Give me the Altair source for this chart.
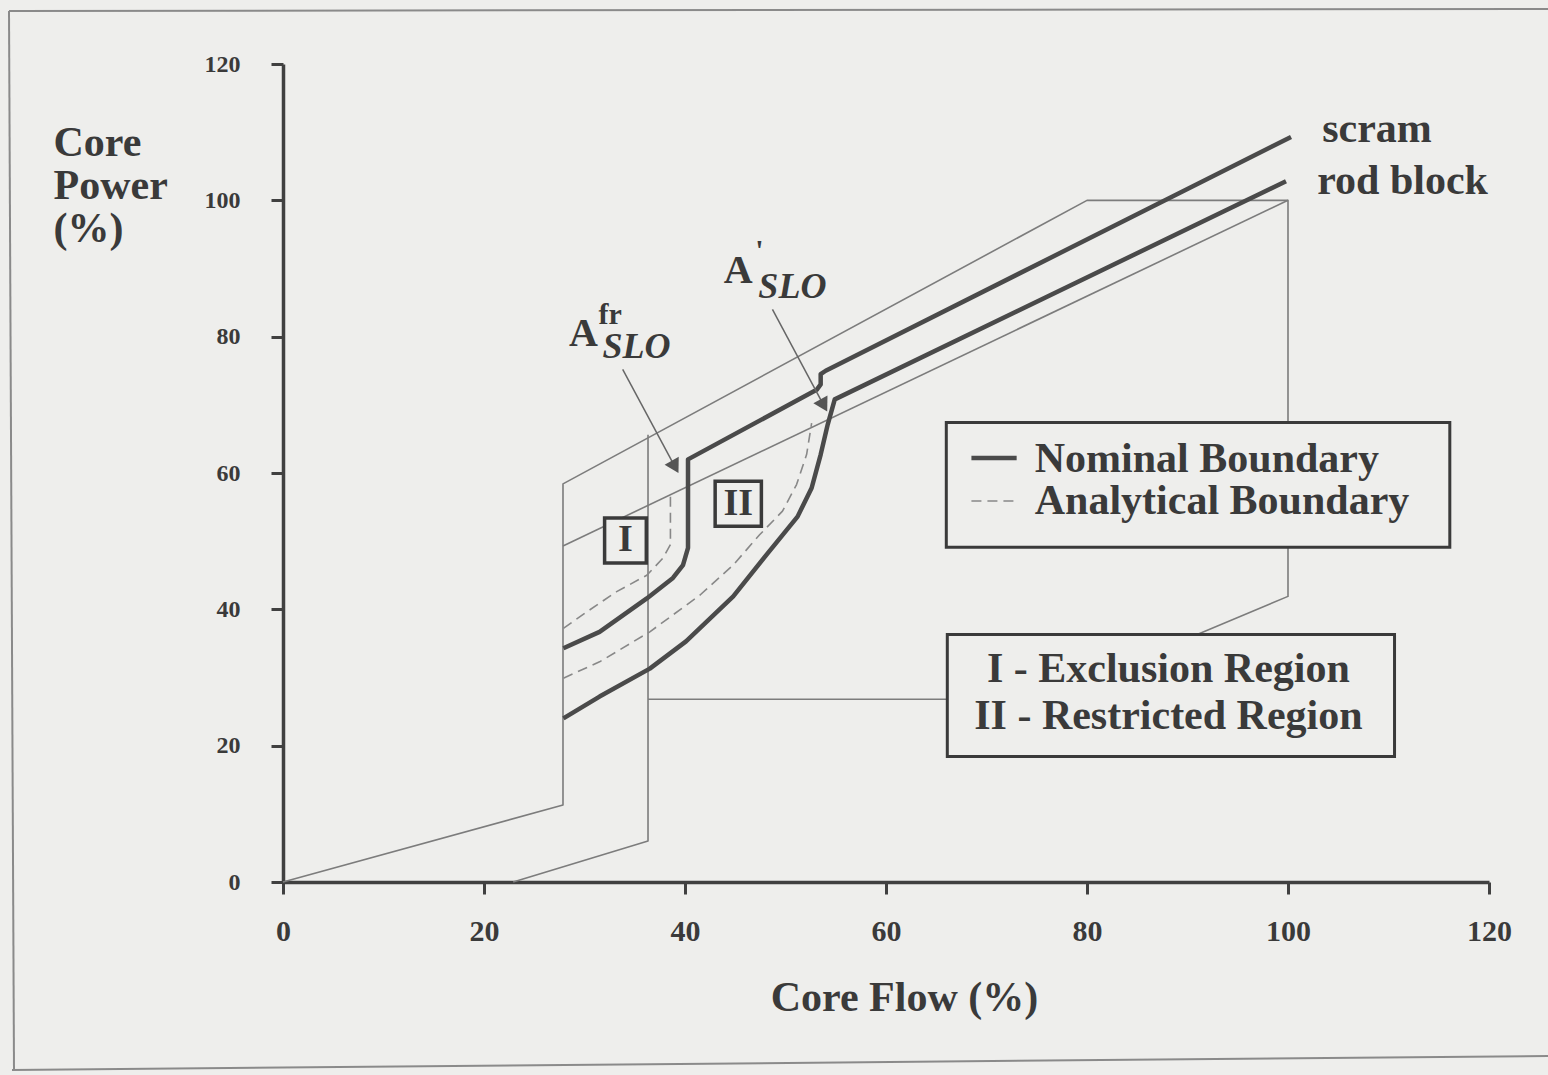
import altair as alt
import pandas as pd

FONT = "Liberation Serif"
INK = "#3a3a3a"
AXIS = "#404040"
THICK = "#4a4a4a"
THIN = "#7c7c7c"
PAPER = "#eeeeec"

# ---- nominal boundaries (thick) ----
scram_flow = [27.9, 31.5, 36.2, 38.8, 39.8, 40.3, 40.3, 53.1, 53.5, 53.5, 54.0, 100.3]
scram_power = [34.3, 36.7, 41.6, 44.6, 46.5, 49.0, 62.0, 72.2, 73.0, 74.5, 75.0, 109.3]

rodblock_flow = [27.9, 31.5, 36.5, 40.1, 44.8, 48.1, 51.2, 52.6, 53.5, 54.2, 54.9, 99.8]
rodblock_power = [24.0, 27.2, 31.3, 35.3, 41.9, 48.0, 53.6, 57.8, 62.7, 67.1, 70.8, 102.8]

# ---- analytical boundaries (dashed) ----
an_scram_flow = [27.9, 30.2, 33.2, 36.2, 37.8, 38.55, 38.55]
an_scram_power = [37.2, 39.6, 42.6, 45.0, 47.5, 49.5, 56.8]

an_rod_flow = [27.9, 31.5, 36.5, 41.5, 44.8, 47.4, 49.7, 51.1, 52.1, 52.6]
an_rod_power = [29.9, 32.3, 36.7, 42.1, 46.5, 50.9, 54.4, 58.3, 62.7, 67.3]

# ---- region outlines (thin) ----
outer_flow = [0, 27.86, 27.86, 80, 100, 100, 75.6, 36.32]
outer_power = [0, 11.3, 58.4, 100, 100, 41.9, 26.8, 26.8]

inner_flow = [22.9, 36.32, 36.32]
inner_power = [0, 6.0, 65.6]

slant_flow = [27.86, 100]
slant_power = [49.3, 100]

tick_values = [0, 20, 40, 60, 80, 100, 120]

xs = alt.Scale(domain=[0, 120], nice=False, zero=False)
ys = alt.Scale(domain=[0, 120], nice=False, zero=False)

x_axis = alt.Axis(
    values=tick_values, grid=False, title="Core Flow (%)",
    domainColor=AXIS, domainWidth=3.5, tickColor=AXIS, tickWidth=3, tickSize=12,
    labelFont=FONT, labelFontWeight="bold", labelFontSize=30, labelColor=INK,
    labelPadding=22, labelFlush=False, labelOverlap=False, labelBound=False,
    titleFont=FONT, titleFontSize=42, titleFontWeight="bold", titleColor=INK,
    titleX=621, titleY=128, titleAlign="center", titleBaseline="alphabetic",
)
y_axis = alt.Axis(
    values=tick_values, grid=False, title=["Core", "Power", "(%)"],
    domainColor=AXIS, domainWidth=3.5, tickColor=AXIS, tickWidth=3, tickSize=12,
    labelFont=FONT, labelFontWeight="bold", labelFontSize=24, labelColor=INK,
    labelPadding=31, labelFlush=False, labelOverlap=False, labelBound=False,
    titleFont=FONT, titleFontSize=42, titleFontWeight="bold", titleColor=INK,
    titleAngle=0, titleX=-230, titleY=91, titleAlign="left",
    titleBaseline="alphabetic", titleLineHeight=43,
)


def X(field):
    return alt.X(field, type="quantitative", scale=xs, axis=x_axis)


def Y(field):
    return alt.Y(field, type="quantitative", scale=ys, axis=y_axis)


def path(flow, power):
    return pd.DataFrame({"flow": flow, "power": power, "i": range(len(flow))})


def line(df, color, width, dash=None):
    props = dict(color=color, strokeWidth=width, strokeJoin="round")
    if dash:
        props["strokeDash"] = dash
    return alt.Chart(df).mark_line(**props).encode(
        x=X("flow"), y=Y("power"), order="i:Q",
    )


def texts(df, size, align="left", baseline="alphabetic", style="normal"):
    return alt.Chart(df).mark_text(
        font=FONT, fontSize=size, fontWeight="bold", fontStyle=style,
        align=align, baseline=baseline, color=INK,
    ).encode(x=X("flow"), y=Y("power"), text="label:N")


def boxes(df, width):
    return alt.Chart(df).mark_rect(fill=PAPER, stroke=INK, strokeWidth=width).encode(
        x=X("x0"), x2="x1:Q", y=Y("y0"), y2="y1:Q",
    )


# page frame, in pixels from the plot origin
one = pd.DataFrame({"k": [0]})


def frame_edge(x0, y0, x1, y1):
    return alt.Chart(one).mark_rule(color="#8a8a8a", strokeWidth=2).encode(
        x=alt.value(x0), y=alt.value(y0), x2=alt.value(x1), y2=alt.value(y1),
    )


frame = [
    frame_edge(-274, -53, 1265, -55),
    frame_edge(-274, -53, -269, 1006),
    frame_edge(-271, 1006, 1265, 992),
]

lines = [
    line(path(outer_flow, outer_power), THIN, 1.6),
    line(path(inner_flow, inner_power), THIN, 1.6),
    line(path(slant_flow, slant_power), THIN, 1.6),
    line(path(an_scram_flow, an_scram_power), "#888888", 1.6, [10, 6]),
    line(path(an_rod_flow, an_rod_power), "#888888", 1.6, [10, 6]),
    line(path(scram_flow, scram_power), THICK, 4.5),
    line(path(rodblock_flow, rodblock_power), THICK, 4.5),
]

# arrows pointing at the two corners
arrow_df = pd.DataFrame({
    "flow": [33.8, 38.9, 48.7, 53.7],
    "power": [75.2, 61.2, 84.0, 70.2],
    "a": ["fr", "fr", "p", "p"],
    "i": [0, 1, 0, 1],
})
arrow_lines = alt.Chart(arrow_df).mark_line(color="#666666", strokeWidth=1.5).encode(
    x=X("flow"), y=Y("power"), detail="a:N", order="i:Q",
)
arrow_heads = alt.Chart(arrow_df[arrow_df["i"] == 1]).mark_point(
    shape="triangle", filled=True, size=260, angle=151, color="#555555", opacity=1,
).encode(x=X("flow"), y=Y("power"))

# region markers and legend frames
region_boxes = boxes(pd.DataFrame({
    "x0": [32.0, 43.0], "x1": [36.15, 47.6], "y0": [46.8, 52.2], "y1": [53.4, 58.8],
}), 3.5)
legend_boxes = boxes(pd.DataFrame({
    "x0": [66.0, 66.1], "x1": [116.1, 110.6], "y0": [49.1, 18.4], "y1": [67.4, 36.3],
}), 3)

legend_samples = [
    line(path([68.5, 73.0], [62.2, 62.2]), THICK, 4.5),
    line(path([68.5, 73.0], [55.9, 55.9]), "#888888", 1.6, [10, 6]),
]

big_left = texts(pd.DataFrame({
    "label": ["scram", "rod block", "Nominal Boundary", "Analytical Boundary"],
    "flow": [103.4, 102.9, 74.8, 74.8],
    "power": [108.5, 101.0, 60.2, 54.0],
}), 42)
big_center = texts(pd.DataFrame({
    "label": ["I - Exclusion Region", "II - Restricted Region"],
    "flow": [88.1, 88.1],
    "power": [29.3, 22.5],
}), 42, align="center")
region_marks = texts(pd.DataFrame({
    "label": ["I", "II"],
    "flow": [34.08, 45.3],
    "power": [50.1, 55.5],
}), 38, align="center", baseline="middle")
a_main = texts(pd.DataFrame({
    "label": ["A", "A"], "flow": [28.45, 43.85], "power": [78.7, 87.8],
}), 40)
a_sup = texts(pd.DataFrame({
    "label": ["fr", "'"], "flow": [31.4, 47.0], "power": [81.9, 91.3],
}), 30)
a_sub = texts(pd.DataFrame({
    "label": ["SLO", "SLO"], "flow": [31.8, 47.3], "power": [76.9, 85.6],
}), 36, style="italic")

chart = alt.layer(
    *lines, *frame, arrow_lines, arrow_heads, region_boxes, legend_boxes,
    *legend_samples, big_left, big_center, region_marks, a_main, a_sup, a_sub,
).properties(
    width=1206, height=818,
    padding={"left": 283, "top": 64, "right": 59, "bottom": 193},
    autosize=alt.AutoSizeParams(type="none"),
    background=PAPER,
).configure_view(stroke=None)

chart.save("out.html", embed_options={"renderer": "svg", "actions": False})
